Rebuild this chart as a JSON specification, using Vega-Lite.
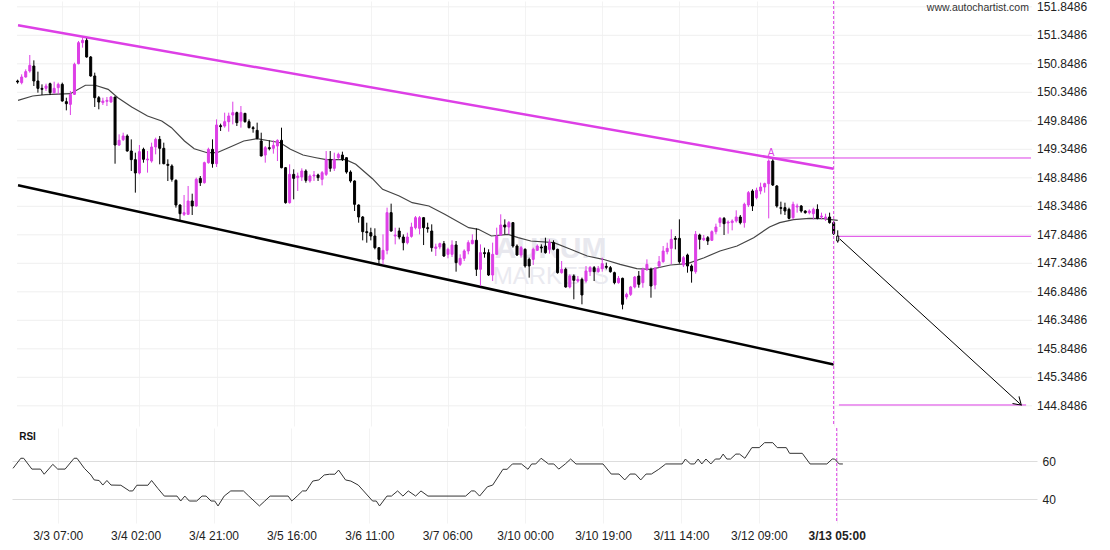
{
  "$schema": "https://vega.github.io/schema/vega-lite/v6.json",
  "padding": {"left": 11, "top": 0, "right": 0, "bottom": 0},
  "background": "white",
  "spacing": 0,
  "config": {
    "view": {"stroke": null},
    "font": "Liberation Sans",
    "axis": {"labelFont": "Liberation Sans", "labelFontSize": 12, "labelColor": "#222222", "ticks": false, "domain": false, "gridWidth": 1, "labelFlush": false, "labelOverlap": false, "title": null}
  },
  "datasets": {
    "candles": [
      {"t":-11,"o":150.547,"h":150.570,"l":150.500,"c":150.529},
      {"t":-10,"o":150.518,"h":150.664,"l":150.488,"c":150.617},
      {"t":-9,"o":150.617,"h":150.751,"l":150.605,"c":150.711},
      {"t":-8,"o":150.722,"h":151.003,"l":150.693,"c":150.822},
      {"t":-7,"o":150.810,"h":150.909,"l":150.459,"c":150.547},
      {"t":-6,"o":150.547,"h":150.711,"l":150.342,"c":150.418},
      {"t":-5,"o":150.418,"h":150.488,"l":150.301,"c":150.401},
      {"t":-4,"o":150.418,"h":150.500,"l":150.371,"c":150.459},
      {"t":-3,"o":150.500,"h":150.518,"l":150.301,"c":150.342},
      {"t":-2,"o":150.342,"h":150.535,"l":150.325,"c":150.418},
      {"t":-1,"o":150.430,"h":150.518,"l":150.313,"c":150.488},
      {"t":0,"o":150.488,"h":150.518,"l":150.184,"c":150.196},
      {"t":1,"o":150.184,"h":150.254,"l":150.032,"c":150.149},
      {"t":2,"o":150.137,"h":150.371,"l":149.950,"c":150.313},
      {"t":3,"o":150.313,"h":150.868,"l":150.301,"c":150.839},
      {"t":4,"o":150.851,"h":151.249,"l":150.839,"c":151.219},
      {"t":5,"o":151.219,"h":151.307,"l":151.132,"c":151.260},
      {"t":6,"o":151.260,"h":151.295,"l":150.956,"c":150.968},
      {"t":7,"o":150.968,"h":150.985,"l":150.623,"c":150.635},
      {"t":8,"o":150.635,"h":150.693,"l":150.091,"c":150.254},
      {"t":9,"o":150.254,"h":150.284,"l":150.050,"c":150.178},
      {"t":10,"o":150.167,"h":150.254,"l":150.126,"c":150.196},
      {"t":11,"o":150.190,"h":150.266,"l":150.108,"c":150.208},
      {"t":12,"o":150.178,"h":150.284,"l":150.167,"c":150.266},
      {"t":13,"o":150.266,"h":150.270,"l":149.096,"c":149.424},
      {"t":14,"o":149.424,"h":149.611,"l":149.406,"c":149.506},
      {"t":15,"o":149.518,"h":149.640,"l":149.494,"c":149.582},
      {"t":16,"o":149.582,"h":149.611,"l":149.307,"c":149.319},
      {"t":17,"o":149.319,"h":149.523,"l":148.968,"c":149.167},
      {"t":18,"o":149.167,"h":149.289,"l":148.588,"c":148.933},
      {"t":19,"o":148.933,"h":149.424,"l":148.909,"c":149.307},
      {"t":20,"o":149.348,"h":149.377,"l":149.114,"c":149.173},
      {"t":21,"o":149.161,"h":149.319,"l":148.939,"c":149.178},
      {"t":22,"o":149.143,"h":149.465,"l":149.114,"c":149.389},
      {"t":23,"o":149.389,"h":149.553,"l":149.260,"c":149.523},
      {"t":24,"o":149.523,"h":149.582,"l":149.085,"c":149.366},
      {"t":25,"o":149.366,"h":149.465,"l":149.085,"c":149.096},
      {"t":26,"o":149.085,"h":149.173,"l":148.792,"c":149.067},
      {"t":27,"o":149.056,"h":149.085,"l":148.781,"c":148.822},
      {"t":28,"o":148.804,"h":148.822,"l":148.325,"c":148.371},
      {"t":29,"o":148.371,"h":148.383,"l":148.091,"c":148.219},
      {"t":30,"o":148.208,"h":148.547,"l":148.178,"c":148.237},
      {"t":31,"o":148.208,"h":148.705,"l":148.196,"c":148.442},
      {"t":32,"o":148.442,"h":148.570,"l":148.196,"c":148.354},
      {"t":33,"o":148.354,"h":148.851,"l":148.342,"c":148.822},
      {"t":34,"o":148.839,"h":148.880,"l":148.705,"c":148.763},
      {"t":35,"o":148.763,"h":149.132,"l":148.746,"c":149.114},
      {"t":36,"o":149.114,"h":149.377,"l":149.096,"c":149.348},
      {"t":37,"o":149.348,"h":149.523,"l":149.026,"c":149.096},
      {"t":38,"o":149.096,"h":149.874,"l":149.038,"c":149.775},
      {"t":39,"o":149.763,"h":149.798,"l":149.670,"c":149.746},
      {"t":40,"o":149.757,"h":149.991,"l":149.728,"c":149.833},
      {"t":41,"o":149.833,"h":149.991,"l":149.658,"c":149.933},
      {"t":42,"o":149.950,"h":150.184,"l":149.786,"c":149.991},
      {"t":43,"o":149.991,"h":150.009,"l":149.757,"c":149.816},
      {"t":44,"o":149.845,"h":150.108,"l":149.728,"c":149.991},
      {"t":45,"o":149.980,"h":149.985,"l":149.816,"c":149.833},
      {"t":46,"o":149.833,"h":149.874,"l":149.716,"c":149.728},
      {"t":47,"o":149.728,"h":149.757,"l":149.640,"c":149.711},
      {"t":48,"o":149.681,"h":149.816,"l":149.523,"c":149.541},
      {"t":49,"o":149.494,"h":149.640,"l":149.225,"c":149.231},
      {"t":50,"o":149.248,"h":149.406,"l":149.114,"c":149.377},
      {"t":51,"o":149.377,"h":149.506,"l":149.330,"c":149.360},
      {"t":52,"o":149.366,"h":149.506,"l":149.272,"c":149.418},
      {"t":53,"o":149.406,"h":149.523,"l":149.143,"c":149.506},
      {"t":54,"o":149.506,"h":149.728,"l":149.015,"c":149.026},
      {"t":55,"o":149.026,"h":149.038,"l":148.395,"c":148.412},
      {"t":56,"o":148.412,"h":149.085,"l":148.395,"c":148.909},
      {"t":57,"o":148.909,"h":148.997,"l":148.471,"c":148.839},
      {"t":58,"o":148.851,"h":148.939,"l":148.617,"c":148.880},
      {"t":59,"o":148.863,"h":149.015,"l":148.793,"c":148.968},
      {"t":60,"o":148.968,"h":148.997,"l":148.763,"c":148.804},
      {"t":61,"o":148.793,"h":148.909,"l":148.763,"c":148.880},
      {"t":62,"o":148.880,"h":148.968,"l":148.793,"c":148.898},
      {"t":63,"o":148.898,"h":148.921,"l":148.793,"c":148.851},
      {"t":64,"o":148.822,"h":148.968,"l":148.716,"c":148.939},
      {"t":65,"o":148.909,"h":149.318,"l":148.880,"c":149.172},
      {"t":66,"o":149.172,"h":149.318,"l":148.956,"c":149.015},
      {"t":67,"o":149.015,"h":149.289,"l":148.968,"c":149.172},
      {"t":68,"o":149.201,"h":149.289,"l":149.172,"c":149.260},
      {"t":69,"o":149.248,"h":149.307,"l":149.143,"c":149.172},
      {"t":70,"o":149.201,"h":149.205,"l":148.921,"c":148.950},
      {"t":71,"o":148.950,"h":148.979,"l":148.763,"c":148.793},
      {"t":72,"o":148.793,"h":148.804,"l":148.266,"c":148.383},
      {"t":73,"o":148.371,"h":148.383,"l":148.061,"c":148.161},
      {"t":74,"o":148.161,"h":148.178,"l":147.751,"c":147.903},
      {"t":75,"o":147.903,"h":148.061,"l":147.710,"c":147.886},
      {"t":76,"o":147.886,"h":147.973,"l":147.751,"c":147.827},
      {"t":77,"o":147.827,"h":147.962,"l":147.593,"c":147.622},
      {"t":78,"o":147.622,"h":147.625,"l":147.330,"c":147.418},
      {"t":79,"o":147.418,"h":147.856,"l":147.330,"c":147.576},
      {"t":80,"o":147.576,"h":148.325,"l":147.506,"c":148.237},
      {"t":81,"o":148.237,"h":148.395,"l":147.903,"c":147.915},
      {"t":82,"o":147.827,"h":147.973,"l":147.681,"c":147.845},
      {"t":83,"o":147.915,"h":147.973,"l":147.769,"c":147.810},
      {"t":84,"o":147.810,"h":147.856,"l":147.576,"c":147.710},
      {"t":85,"o":147.710,"h":147.886,"l":147.681,"c":147.810},
      {"t":86,"o":147.821,"h":148.061,"l":147.798,"c":147.985},
      {"t":87,"o":147.973,"h":148.178,"l":147.944,"c":148.149},
      {"t":88,"o":147.962,"h":148.178,"l":147.856,"c":148.149},
      {"t":89,"o":148.149,"h":148.161,"l":147.669,"c":147.973},
      {"t":90,"o":147.973,"h":148.061,"l":147.886,"c":147.956},
      {"t":91,"o":147.915,"h":148.032,"l":147.553,"c":147.623},
      {"t":92,"o":147.611,"h":147.693,"l":147.477,"c":147.635},
      {"t":93,"o":147.635,"h":147.711,"l":147.594,"c":147.693},
      {"t":94,"o":147.693,"h":147.740,"l":147.459,"c":147.477},
      {"t":95,"o":147.506,"h":147.623,"l":147.436,"c":147.594},
      {"t":96,"o":147.506,"h":147.752,"l":147.459,"c":147.670},
      {"t":97,"o":147.670,"h":147.740,"l":147.202,"c":147.360},
      {"t":98,"o":147.331,"h":147.506,"l":147.302,"c":147.436},
      {"t":99,"o":147.436,"h":147.594,"l":147.389,"c":147.565},
      {"t":100,"o":147.565,"h":147.752,"l":147.506,"c":147.711},
      {"t":101,"o":147.693,"h":147.857,"l":147.681,"c":147.752},
      {"t":102,"o":147.752,"h":147.962,"l":147.126,"c":147.243},
      {"t":103,"o":147.243,"h":147.681,"l":146.951,"c":147.535},
      {"t":104,"o":147.535,"h":147.623,"l":147.447,"c":147.518},
      {"t":105,"o":147.535,"h":147.594,"l":147.126,"c":147.143},
      {"t":106,"o":147.143,"h":147.711,"l":147.038,"c":147.506},
      {"t":107,"o":147.506,"h":147.974,"l":147.494,"c":147.828},
      {"t":108,"o":147.845,"h":148.208,"l":147.828,"c":148.021},
      {"t":109,"o":148.021,"h":148.120,"l":147.857,"c":147.985},
      {"t":110,"o":147.985,"h":148.091,"l":147.857,"c":148.062},
      {"t":111,"o":148.062,"h":148.065,"l":147.623,"c":147.652},
      {"t":112,"o":147.652,"h":147.681,"l":147.477,"c":147.494},
      {"t":113,"o":147.494,"h":147.652,"l":147.447,"c":147.623},
      {"t":114,"o":147.594,"h":147.611,"l":147.272,"c":147.302},
      {"t":115,"o":147.418,"h":147.447,"l":147.097,"c":147.302},
      {"t":116,"o":147.418,"h":147.623,"l":147.319,"c":147.594},
      {"t":117,"o":147.576,"h":147.681,"l":147.565,"c":147.652},
      {"t":118,"o":147.635,"h":147.681,"l":147.535,"c":147.617},
      {"t":119,"o":147.652,"h":147.798,"l":147.518,"c":147.535},
      {"t":120,"o":147.594,"h":147.769,"l":147.518,"c":147.711},
      {"t":121,"o":147.711,"h":147.752,"l":147.576,"c":147.594},
      {"t":122,"o":147.594,"h":147.605,"l":147.167,"c":147.184},
      {"t":123,"o":147.184,"h":147.389,"l":147.167,"c":147.243},
      {"t":124,"o":147.243,"h":147.272,"l":146.921,"c":146.933},
      {"t":125,"o":146.933,"h":147.155,"l":146.909,"c":147.126},
      {"t":126,"o":147.126,"h":147.155,"l":146.717,"c":147.050},
      {"t":127,"o":147.038,"h":147.126,"l":147.009,"c":147.067},
      {"t":128,"o":147.067,"h":147.097,"l":146.629,"c":146.793},
      {"t":129,"o":147.038,"h":147.301,"l":147.009,"c":147.214},
      {"t":130,"o":147.202,"h":147.301,"l":147.126,"c":147.272},
      {"t":131,"o":147.272,"h":147.301,"l":147.038,"c":147.202},
      {"t":132,"o":147.202,"h":147.301,"l":147.184,"c":147.254},
      {"t":133,"o":147.254,"h":147.447,"l":147.202,"c":147.342},
      {"t":134,"o":147.295,"h":147.360,"l":147.243,"c":147.278},
      {"t":135,"o":147.272,"h":147.301,"l":147.184,"c":147.202},
      {"t":136,"o":147.184,"h":147.202,"l":146.980,"c":147.009},
      {"t":137,"o":147.009,"h":147.126,"l":146.991,"c":147.085},
      {"t":138,"o":147.085,"h":147.097,"l":146.541,"c":146.629},
      {"t":139,"o":146.758,"h":146.833,"l":146.717,"c":146.804},
      {"t":140,"o":146.804,"h":146.951,"l":146.775,"c":146.933},
      {"t":141,"o":146.933,"h":147.126,"l":146.909,"c":147.108},
      {"t":142,"o":147.126,"h":147.213,"l":146.921,"c":146.980},
      {"t":143,"o":147.009,"h":147.272,"l":146.921,"c":147.243},
      {"t":144,"o":147.243,"h":147.418,"l":147.213,"c":147.330},
      {"t":145,"o":147.243,"h":147.272,"l":146.745,"c":146.950},
      {"t":146,"o":146.968,"h":147.283,"l":146.892,"c":147.260},
      {"t":147,"o":147.301,"h":147.476,"l":147.272,"c":147.377},
      {"t":148,"o":147.377,"h":147.652,"l":147.359,"c":147.564},
      {"t":149,"o":147.553,"h":147.710,"l":147.506,"c":147.611},
      {"t":150,"o":147.611,"h":147.944,"l":147.330,"c":147.769},
      {"t":151,"o":147.786,"h":147.827,"l":147.593,"c":147.769},
      {"t":152,"o":147.786,"h":148.120,"l":147.342,"c":147.377},
      {"t":153,"o":147.319,"h":147.476,"l":147.283,"c":147.447},
      {"t":154,"o":147.494,"h":147.518,"l":147.184,"c":147.301},
      {"t":155,"o":147.301,"h":147.330,"l":147.009,"c":147.213},
      {"t":156,"o":147.202,"h":147.915,"l":147.166,"c":147.857},
      {"t":157,"o":147.845,"h":147.868,"l":147.593,"c":147.769},
      {"t":158,"o":147.763,"h":147.845,"l":147.740,"c":147.786},
      {"t":159,"o":147.798,"h":147.827,"l":147.670,"c":147.740},
      {"t":160,"o":147.752,"h":147.927,"l":147.740,"c":147.904},
      {"t":161,"o":147.904,"h":148.044,"l":147.857,"c":147.986},
      {"t":162,"o":148.062,"h":148.161,"l":147.986,"c":148.137},
      {"t":163,"o":148.137,"h":148.161,"l":147.845,"c":148.044},
      {"t":164,"o":148.056,"h":148.102,"l":147.868,"c":148.073},
      {"t":165,"o":148.062,"h":148.120,"l":147.927,"c":148.091},
      {"t":166,"o":148.091,"h":148.278,"l":148.062,"c":148.161},
      {"t":167,"o":148.161,"h":148.196,"l":148.032,"c":148.062},
      {"t":168,"o":148.062,"h":148.412,"l":147.974,"c":148.383},
      {"t":169,"o":148.371,"h":148.617,"l":148.336,"c":148.588},
      {"t":170,"o":148.617,"h":148.646,"l":148.266,"c":148.354},
      {"t":171,"o":148.500,"h":148.675,"l":148.471,"c":148.629},
      {"t":172,"o":148.617,"h":148.763,"l":148.559,"c":148.687},
      {"t":173,"o":148.687,"h":148.763,"l":148.588,"c":148.746},
      {"t":174,"o":148.746,"h":149.172,"l":148.137,"c":149.143},
      {"t":175,"o":149.143,"h":149.172,"l":148.705,"c":148.722},
      {"t":176,"o":148.705,"h":148.722,"l":148.325,"c":148.354},
      {"t":177,"o":148.325,"h":148.430,"l":148.208,"c":148.313},
      {"t":178,"o":148.325,"h":148.412,"l":148.196,"c":148.266},
      {"t":179,"o":148.295,"h":148.325,"l":148.120,"c":148.137},
      {"t":180,"o":148.149,"h":148.430,"l":148.120,"c":148.383},
      {"t":181,"o":148.336,"h":148.395,"l":148.237,"c":148.354},
      {"t":182,"o":148.354,"h":148.371,"l":148.237,"c":148.266},
      {"t":183,"o":148.266,"h":148.278,"l":148.219,"c":148.237},
      {"t":184,"o":148.237,"h":148.295,"l":148.208,"c":148.266},
      {"t":185,"o":148.219,"h":148.325,"l":148.120,"c":148.295},
      {"t":186,"o":148.295,"h":148.383,"l":148.120,"c":148.137},
      {"t":187,"o":148.161,"h":148.237,"l":148.120,"c":148.178},
      {"t":188,"o":148.137,"h":148.219,"l":148.091,"c":148.161},
      {"t":189,"o":148.161,"h":148.237,"l":148.044,"c":148.062},
      {"t":190,"o":148.062,"h":148.091,"l":147.845,"c":147.868},
      {"t":191,"o":147.827,"h":147.927,"l":147.710,"c":147.740}
    ],
    "ma": [
      {"t":-10.9,"v":150.208},{"t":-7.3,"v":150.284},{"t":-4.1,"v":150.307},{"t":2.0,"v":150.324},{"t":5.7,"v":150.472},{"t":8.1,"v":150.472},{"t":11.3,"v":150.401},{"t":13.7,"v":150.254},{"t":17.1,"v":150.091},{"t":21.0,"v":149.933},{"t":24.5,"v":149.845},{"t":26.9,"v":149.728},{"t":30.1,"v":149.494},{"t":32.5,"v":149.359},{"t":35.7,"v":149.289},{"t":38.1,"v":149.289},{"t":41.5,"v":149.394},{"t":44.7,"v":149.494},{"t":47.9,"v":149.535},{"t":51.3,"v":149.494},{"t":53.7,"v":149.464},{"t":56.2,"v":149.349},{"t":59.3,"v":149.249},{"t":62.5,"v":149.201},{"t":65.0,"v":149.166},{"t":69.8,"v":149.166},{"t":72.3,"v":149.085},{"t":74.7,"v":148.938},{"t":76.4,"v":148.833},{"t":78.9,"v":148.647},{"t":83.0,"v":148.529},{"t":86.2,"v":148.412},{"t":90.3,"v":148.354},{"t":94.2,"v":148.208},{"t":100.1,"v":147.973},{"t":102.5,"v":147.945},{"t":105.7,"v":147.828},{"t":109.8,"v":147.857},{"t":112.3,"v":147.798},{"t":115.4,"v":147.740},{"t":121.1,"v":147.710},{"t":125.2,"v":147.594},{"t":129.3,"v":147.477},{"t":133.2,"v":147.419},{"t":137.4,"v":147.331},{"t":141.5,"v":147.254},{"t":144.9,"v":147.243},{"t":149.8,"v":147.319},{"t":154.0,"v":147.342},{"t":158.1,"v":147.447},{"t":162.0,"v":147.565},{"t":166.2,"v":147.652},{"t":170.3,"v":147.798},{"t":174.2,"v":147.985},{"t":176.7,"v":148.061},{"t":180.1,"v":148.114},{"t":184.0,"v":148.138},{"t":187.4,"v":148.131},{"t":191.0,"v":148.103}
    ],
    "rsi": [
      {"t":-10.9,"v":56.3},{"t":-9.0,"v":61.6},{"t":-8.3,"v":61.6},{"t":-6.3,"v":55.9},{"t":-4.2,"v":55.9},{"t":-3.3,"v":53.2},{"t":-1.2,"v":58.4},{"t":0,"v":55.9},{"t":1.8,"v":55.9},{"t":4.0,"v":61.6},{"t":4.7,"v":61.6},{"t":6.5,"v":56.3},{"t":8.1,"v":52.8},{"t":8.9,"v":50.2},{"t":10.1,"v":49.9},{"t":11.0,"v":47.5},{"t":12.0,"v":49.9},{"t":13.0,"v":47.5},{"t":15.4,"v":47.4},{"t":17.5,"v":44.4},{"t":18.3,"v":44.4},{"t":19.3,"v":47.4},{"t":22.0,"v":47.4},{"t":22.9,"v":49.9},{"t":24.4,"v":45.8},{"t":26.0,"v":41.7},{"t":29.1,"v":41.7},{"t":30.0,"v":39.1},{"t":31.0,"v":41.7},{"t":32.1,"v":39.1},{"t":33.9,"v":39.1},{"t":35.2,"v":41.7},{"t":36.2,"v":41.7},{"t":37.4,"v":39.1},{"t":38.3,"v":39.1},{"t":39.1,"v":36.5},{"t":40.6,"v":41.7},{"t":42.2,"v":44.4},{"t":45.3,"v":44.4},{"t":46.6,"v":41.7},{"t":49.2,"v":36.5},{"t":50.5,"v":39.1},{"t":51.8,"v":41.7},{"t":56.2,"v":41.7},{"t":57.1,"v":39.1},{"t":58.4,"v":41.7},{"t":59.7,"v":44.4},{"t":60.6,"v":44.4},{"t":62.2,"v":49.6},{"t":63.7,"v":50.2},{"t":65.0,"v":52.8},{"t":66.3,"v":53.2},{"t":67.6,"v":53.2},{"t":68.5,"v":55.4},{"t":70.2,"v":50.2},{"t":71.5,"v":49.6},{"t":73.3,"v":47.5},{"t":74.6,"v":44.4},{"t":76.8,"v":39.1},{"t":77.7,"v":39.1},{"t":78.5,"v":36.5},{"t":80.3,"v":41.7},{"t":81.4,"v":41.7},{"t":82.9,"v":44.4},{"t":84.2,"v":41.7},{"t":85.5,"v":44.4},{"t":87.3,"v":41.7},{"t":88.6,"v":44.4},{"t":90.3,"v":41.7},{"t":99.5,"v":41.7},{"t":100.9,"v":44.4},{"t":101.7,"v":44.4},{"t":102.9,"v":41.7},{"t":104.8,"v":46.6},{"t":106.1,"v":47.5},{"t":108.6,"v":55.8},{"t":109.6,"v":55.8},{"t":110.9,"v":58.6},{"t":113.1,"v":58.6},{"t":114.7,"v":55.8},{"t":115.6,"v":58.6},{"t":116.6,"v":58.6},{"t":117.9,"v":61.6},{"t":119.7,"v":58.6},{"t":121.0,"v":58.6},{"t":122.2,"v":55.9},{"t":123.8,"v":58.6},{"t":125.1,"v":61.2},{"t":126.4,"v":58.6},{"t":133.0,"v":58.6},{"t":135.0,"v":53.3},{"t":136.9,"v":53.3},{"t":138.3,"v":50.2},{"t":139.6,"v":53.3},{"t":140.9,"v":53.3},{"t":142.2,"v":50.2},{"t":143.5,"v":53.3},{"t":144.8,"v":53.3},{"t":146.6,"v":55.8},{"t":148.3,"v":58.6},{"t":152.3,"v":58.6},{"t":153.1,"v":61.2},{"t":154.3,"v":58.6},{"t":155.3,"v":58.6},{"t":156.2,"v":61.2},{"t":157.1,"v":58.6},{"t":158.1,"v":61.2},{"t":159.3,"v":58.6},{"t":160.4,"v":61.2},{"t":161.5,"v":61.2},{"t":162.3,"v":63.8},{"t":163.2,"v":61.2},{"t":164.1,"v":61.2},{"t":165.4,"v":63.8},{"t":166.3,"v":63.8},{"t":167.6,"v":61.6},{"t":169.3,"v":67.2},{"t":171.1,"v":67.2},{"t":172.4,"v":69.8},{"t":174.4,"v":69.8},{"t":175.5,"v":67.2},{"t":177.7,"v":67.2},{"t":178.5,"v":64.2},{"t":181.6,"v":64.2},{"t":183.5,"v":58.6},{"t":187.6,"v":58.6},{"t":188.9,"v":61.2},{"t":189.5,"v":61.2},{"t":190.6,"v":58.6},{"t":191.5,"v":58.6}
    ],
    "channel": [
      {"line":"upper","t":-10.9,"p":151.524},{"line":"upper","t":190,"p":149.008},
      {"line":"lower","t":-10.9,"p":148.717},{"line":"lower","t":190,"p":145.573}
    ],
    "levels": [
      {"t0":174.4,"t1":238.6,"p":149.196},
      {"t0":191,"t1":238.6,"p":147.822},
      {"t0":191.3,"t1":237.4,"p":144.863}
    ],
    "arrow": [
      {"t":191.5,"p":147.775},{"t":236.2,"p":144.863}
    ],
    "priceTicks": [
      {"p":144.8486},{"p":145.3486},{"p":145.8486},{"p":146.3486},{"p":146.8486},{"p":147.3486},{"p":147.8486},{"p":148.3486},{"p":148.8486},{"p":149.3486},{"p":149.8486},{"p":150.3486},{"p":150.8486},{"p":151.3486},{"p":151.8486}
    ]
  },
  "vconcat": [
    {
      "width": 1025,
      "height": 425,
      "layer": [
        {
          "data": {"name": "priceTicks"},
          "mark": {"type": "rule", "color": "#efefef", "strokeWidth": 1},
          "encoding": {
            "x": {"datum": -11.15, "type": "quantitative", "scale": {"domain": [-11.15, 238.85], "nice": false, "zero": false},
                  "axis": {"values": [0,19,38,57,76,95,114,133,152,171,190], "labels": false, "grid": true, "gridColor": "#f3f3f3"}},
            "x2": {"datum": 238.85},
            "y": {"field": "p", "type": "quantitative", "scale": {"domain": [144.4942, 151.9504], "nice": false, "zero": false},
                  "axis": null}
          }
        },
        {
          "data": {"name": "priceTicks"},
          "mark": {"type": "text", "fontSize": 12, "font": "Liberation Sans", "color": "#222222", "align": "left", "baseline": "middle", "dx": 5},
          "encoding": {
            "x": {"datum": 238.85, "type": "quantitative"},
            "y": {"field": "p", "type": "quantitative"},
            "text": {"field": "p", "type": "quantitative", "format": ".4f"}
          }
        },
        {
          "data": {"values": [{"label": "AURUM"}]},
          "mark": {"type": "text", "fontSize": 30, "fontWeight": "bold", "color": "#e8e8ee", "align": "center", "baseline": "middle"},
          "encoding": {
            "x": {"datum": 120.3, "type": "quantitative"},
            "y": {"datum": 147.6, "type": "quantitative"},
            "text": {"field": "label"}
          }
        },
        {
          "data": {"values": [{"label": "MARKETS"}]},
          "mark": {"type": "text", "fontSize": 24, "color": "#eaeaf0", "align": "center", "baseline": "middle"},
          "encoding": {
            "x": {"datum": 120.3, "type": "quantitative"},
            "y": {"datum": 147.108, "type": "quantitative"},
            "text": {"field": "label"}
          }
        },
        {
          "data": {"name": "channel"},
          "transform": [{"filter": "datum.line == 'upper'"}],
          "mark": {"type": "line", "color": "#dd3fe6", "strokeWidth": 2.5},
          "encoding": {"x": {"field": "t", "type": "quantitative"}, "y": {"field": "p", "type": "quantitative"}}
        },
        {
          "data": {"name": "channel"},
          "transform": [{"filter": "datum.line == 'lower'"}],
          "mark": {"type": "line", "color": "#000000", "strokeWidth": 2.5},
          "encoding": {"x": {"field": "t", "type": "quantitative"}, "y": {"field": "p", "type": "quantitative"}}
        },
        {
          "data": {"name": "levels"},
          "mark": {"type": "rule", "color": "#dd3fe6", "strokeWidth": 1},
          "encoding": {"x": {"field": "t0", "type": "quantitative"}, "x2": {"field": "t1"}, "y": {"field": "p", "type": "quantitative"}}
        },
        {
          "data": {"name": "ma"},
          "mark": {"type": "line", "color": "#444444", "strokeWidth": 1.2},
          "encoding": {"x": {"field": "t", "type": "quantitative"}, "y": {"field": "v", "type": "quantitative"}}
        },
        {
          "data": {"name": "candles"},
          "mark": {"type": "rule", "strokeWidth": 1},
          "encoding": {
            "x": {"field": "t", "type": "quantitative"},
            "y": {"field": "l", "type": "quantitative"},
            "y2": {"field": "h"},
            "color": {"condition": {"test": "datum.c >= datum.o && datum.t != 191", "value": "#dd3fe6"}, "value": "#000000"}
          }
        },
        {
          "data": {"name": "candles"},
          "mark": {"type": "bar", "width": 2, "strokeWidth": 1},
          "encoding": {
            "x": {"field": "t", "type": "quantitative"},
            "y": {"field": "o", "type": "quantitative"},
            "y2": {"field": "c"},
            "fill": {"condition": [{"test": "datum.t == 191", "value": "#ffffff"}, {"test": "datum.c >= datum.o", "value": "#dd3fe6"}], "value": "#000000"},
            "stroke": {"condition": {"test": "datum.c >= datum.o && datum.t != 191", "value": "#dd3fe6"}, "value": "#000000"}
          }
        },
        {
          "data": {"values": [{"event": "signal"}]},
          "mark": {"type": "rule", "color": "#dd3fe6", "strokeWidth": 1, "strokeDash": [3, 2]},
          "encoding": {"x": {"datum": 190, "type": "quantitative"}}
        },
        {
          "data": {"name": "arrow"},
          "mark": {"type": "line", "color": "#000000", "strokeWidth": 1},
          "encoding": {"x": {"field": "t", "type": "quantitative"}, "y": {"field": "p", "type": "quantitative"}}
        },
        {
          "data": {"name": "arrow"},
          "transform": [{"filter": "datum.t > 200"}],
          "mark": {"type": "point", "shape": "M-1,-0.65L0,0L-1,0.65", "filled": false, "stroke": "#000000", "strokeWidth": 1, "size": 220, "angle": 42, "opacity": 1},
          "encoding": {"x": {"field": "t", "type": "quantitative"}, "y": {"field": "p", "type": "quantitative"}}
        },
        {
          "data": {"values": [{"label": "A"}]},
          "mark": {"type": "text", "fontSize": 10, "color": "#dd3fe6", "align": "center", "baseline": "middle"},
          "encoding": {"x": {"datum": 174.6, "type": "quantitative"}, "y": {"datum": 149.289, "type": "quantitative"}, "text": {"field": "label"}}
        },
        {
          "data": {"values": [{"label": "www.autochartist.com"}]},
          "mark": {"type": "text", "fontSize": 10.5, "color": "#333333", "align": "right", "baseline": "middle"},
          "encoding": {"x": {"datum": 238.1, "type": "quantitative"}, "y": {"datum": 151.827, "type": "quantitative"}, "text": {"field": "label"}}
        }
      ]
    },
    {
      "width": 1025,
      "height": 95,
      "layer": [
        {
          "data": {"values": [{"event": "signal"}]},
          "mark": {"type": "rule", "color": "#dd3fe6", "strokeWidth": 1, "strokeDash": [3, 2]},
          "encoding": {
            "x": {"datum": 190, "type": "quantitative", "scale": {"domain": [-11.15, 238.85], "nice": false, "zero": false},
                  "axis": {"values": [0,19,38,57,76,95,114,133,152,171,190], "grid": true, "gridColor": "#f3f3f3", "labelPadding": 7,
                           "labelExpr": "['3/3 07:00','3/4 02:00','3/4 21:00','3/5 16:00','3/6 11:00','3/7 06:00','3/10 00:00','3/10 19:00','3/11 14:00','3/12 09:00','3/13 05:00'][round(datum.value / 19)]",
                           "labelFontWeight": {"condition": {"test": "datum.value == 190", "value": "bold"}, "value": "normal"}}}
          }
        },
        {
          "data": {"name": "rsi"},
          "mark": {"type": "line", "color": "#333333", "strokeWidth": 1},
          "encoding": {
            "x": {"field": "t", "type": "quantitative"},
            "y": {"field": "v", "type": "quantitative", "scale": {"domain": [27.53, 77.53], "nice": false, "zero": false},
                  "axis": {"orient": "right", "values": [40, 60], "grid": true, "gridColor": "#dddddd", "labelPadding": 5}}
          }
        },
        {
          "data": {"values": [{"label": "RSI"}]},
          "mark": {"type": "text", "fontSize": 10, "fontWeight": "bold", "color": "#111111", "align": "left", "baseline": "middle"},
          "encoding": {"x": {"datum": -9.4, "type": "quantitative"}, "y": {"datum": 72.8, "type": "quantitative"}, "text": {"field": "label"}}
        }
      ]
    }
  ]
}
